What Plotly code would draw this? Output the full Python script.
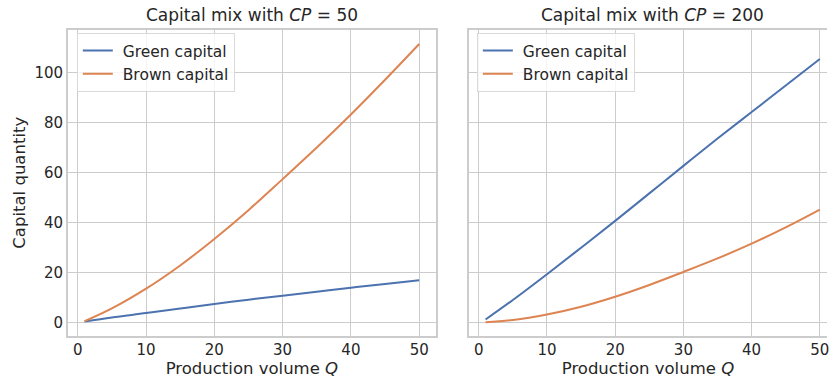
import plotly.graph_objects as go

# Production volume grid
q = [1, 5, 10, 15, 20, 25, 30, 35, 40, 45, 50]

# Capital mix, carbon price CP = 50
green_cp50 = [0.35, 2.0, 3.75, 5.6, 7.4, 9.1, 10.7, 12.3, 13.9, 15.4, 16.9]
brown_cp50 = [0.5, 5.6, 13.5, 22.8, 33.4, 44.9, 57.3, 69.9, 83.1, 97.0, 111.3]

# Capital mix, carbon price CP = 200
green_cp200 = [1.2, 9.0, 19.3, 29.9, 40.6, 51.6, 62.6, 73.5, 84.1, 94.7, 105.3]
brown_cp200 = [0.1, 1.0, 3.2, 6.3, 10.3, 15.0, 20.2, 25.6, 31.5, 38.0, 45.1]

x_ticks = [0, 10, 20, 30, 40, 50]
y_ticks = [0, 20, 40, 60, 80, 100]

BLUE = "#4C72B0"
ORANGE = "#DD8452"
GRID = "#cccccc"
TEXT = "#262626"
FONT = "DejaVu Sans"
GAP = "\u00a0"  # small gap between legend line sample and label

fig = go.Figure()

fig.add_trace(go.Scatter(x=q, y=green_cp50, mode="lines", name=GAP + "Green capital",
                         line=dict(color=BLUE, width=2, shape="spline"),
                         xaxis="x", yaxis="y", legend="legend"))
fig.add_trace(go.Scatter(x=q, y=brown_cp50, mode="lines", name=GAP + "Brown capital",
                         line=dict(color=ORANGE, width=2, shape="spline"),
                         xaxis="x", yaxis="y", legend="legend"))
fig.add_trace(go.Scatter(x=q, y=green_cp200, mode="lines", name=GAP + "Green capital",
                         line=dict(color=BLUE, width=2, shape="spline"),
                         xaxis="x2", yaxis="y2", legend="legend2"))
fig.add_trace(go.Scatter(x=q, y=brown_cp200, mode="lines", name=GAP + "Brown capital",
                         line=dict(color=ORANGE, width=2, shape="spline"),
                         xaxis="x2", yaxis="y2", legend="legend2"))

W, H = 829, 383
left_dom = [68 / W, 437 / W]
right_dom = [470 / W, 1.0]
y_dom = [(H - 335.5) / H, (H - 30) / H]
y_range = [-5.2, 116.9]

axis_common = dict(
    showgrid=True, gridcolor=GRID, gridwidth=1,
    showline=True, linecolor=GRID, linewidth=1.5,
    zeroline=False, ticks="", ticklabeloverflow="allow",
    tickfont=dict(family=FONT, size=15, color=TEXT),
)
title_font = dict(family=FONT, size=16.5, color=TEXT)

legend_common = dict(
    bgcolor="rgba(255,255,255,0.8)", bordercolor="#d9d9d9", borderwidth=1,
    font=dict(family=FONT, size=15.5, color=TEXT),
    xanchor="left", yanchor="top", tracegroupgap=0, itemwidth=30,
)

fig.update_layout(
    width=W, height=H,
    margin=dict(l=0, r=0, t=0, b=0),
    paper_bgcolor="white", plot_bgcolor="white",
    font=dict(family=FONT, color=TEXT),
    xaxis=dict(domain=left_dom, range=[-1.45, 52.45], tickvals=x_ticks,
               mirror=True, anchor="y",
               title=dict(text="Production volume <i>Q</i>", font=title_font, standoff=3),
               **axis_common),
    yaxis=dict(domain=y_dom, range=y_range, tickvals=y_ticks, mirror=True,
               anchor="x",
               title=dict(text="Capital quantity", font=title_font, standoff=5),
               **axis_common),
    xaxis2=dict(domain=right_dom, range=[-1.45, 51.05], tickvals=x_ticks,
                mirror=True, anchor="y2",
                title=dict(text="Production volume <i>Q</i>", font=title_font, standoff=3),
                **axis_common),
    yaxis2=dict(domain=y_dom, range=y_range, tickvals=y_ticks, showticklabels=False,
                mirror=False, anchor="x2", matches="y", **axis_common),
    legend=dict(x=77 / W, y=(H - 33) / H, **legend_common),
    legend2=dict(x=478 / W, y=(H - 33) / H, **legend_common),
    annotations=[
        dict(text="Capital mix with <i>CP</i> = 50", x=sum(left_dom) / 2,
             y=(H - 15) / H, xref="paper", yref="paper", showarrow=False,
             xanchor="center", yanchor="middle",
             font=dict(family=FONT, size=17, color=TEXT)),
        dict(text="Capital mix with <i>CP</i> = 200", x=(470 + 184) / W,
             y=(H - 15) / H, xref="paper", yref="paper", showarrow=False,
             xanchor="center", yanchor="middle",
             font=dict(family=FONT, size=17, color=TEXT)),
    ],
)

fig.write_html("out.html")
